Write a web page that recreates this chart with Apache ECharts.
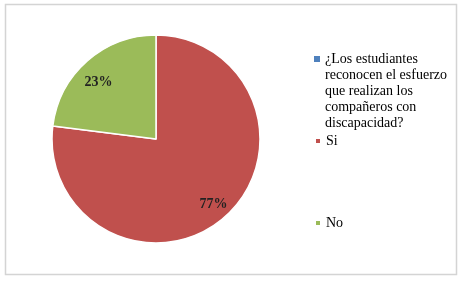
<!DOCTYPE html>
<html>
<head>
<meta charset="utf-8">
<script src="https://cdn.jsdelivr.net/npm/echarts@6/dist/echarts.min.js"></script>
<style>html,body{margin:0;padding:0;background:#fff}#c{width:461px;height:282px}</style>
</head>
<body>
<div id="c"></div>
<script>
var categories = ['¿Los estudiantes reconocen el esfuerzo que realizan los compañeros con discapacidad?', 'Si', 'No'];
var legendLabels = ['¿Los estudiantes\nreconocen el esfuerzo\nque realizan los\ncompañeros con\ndiscapacidad?', 'Si', 'No'];
var values = [0, 77, 23];
var colors = ['#4F81BD', '#C0504D', '#9BBB59'];

var font = 'Liberation Serif';
var chart = echarts.init(document.getElementById('c'));
var data = categories.map(function (n, i) {
  return { name: n, value: values[i], itemStyle: { color: colors[i], borderWidth: values[i] ? 1.5 : 0 } };
});
var labelData = categories.map(function (n, i) {
  return { name: n, value: values[i], label: { show: values[i] > 0 } };
});
function mkLegend(i, top, extra) {
  return Object.assign({
    data: [categories[i]],
    orient: 'vertical',
    left: 314,
    top: top,
    padding: 0,
    itemWidth: 6,
    itemHeight: 6,
    itemGap: 0,
    icon: 'rect',
    selectedMode: false,
    formatter: function () { return legendLabels[i]; },
    textStyle: { fontFamily: font, fontSize: 14, color: '#000', lineHeight: 16 }
  }, extra || {});
}
chart.setOption({
  animation: false,
  graphic: [{
    type: 'rect', shape: { x: 5.5, y: 4.5, width: 451, height: 270 },
    style: { fill: 'none', stroke: '#d4d4d4', lineWidth: 1.5 }, silent: true
  }],
  legend: [
    mkLegend(0, 51, { itemHeight: 70, icon: 'path://M0,0L6,0L6,6L0,6Z M0,70L0.001,70L0,70Z' }),
    mkLegend(1, 133),
    mkLegend(2, 215)
  ],
  series: [{
    type: 'pie',
    center: [156, 139],
    radius: 104,
    startAngle: 90,
    clockwise: true,
    avoidLabelOverlap: false,
    label: { show: false },
    labelLine: { show: false },
    itemStyle: { borderColor: '#fff' },
    emphasis: { disabled: true },
    data: data
  }, {
    type: 'pie',
    center: [156, 139],
    radius: [64, 104],
    startAngle: 90,
    clockwise: true,
    silent: true,
    percentPrecision: 0,
    avoidLabelOverlap: false,
    itemStyle: { color: 'rgba(0,0,0,0)' },
    label: { position: 'inside', formatter: '{d}%', fontFamily: font, fontSize: 14, fontWeight: 'bold', color: '#222' },
    labelLayout: function (p) { return p.dataIndex === 2 ? { dy: 9 } : {}; },
    labelLine: { show: false },
    emphasis: { disabled: true },
    data: labelData
  }]
});
</script>
</body>
</html>
